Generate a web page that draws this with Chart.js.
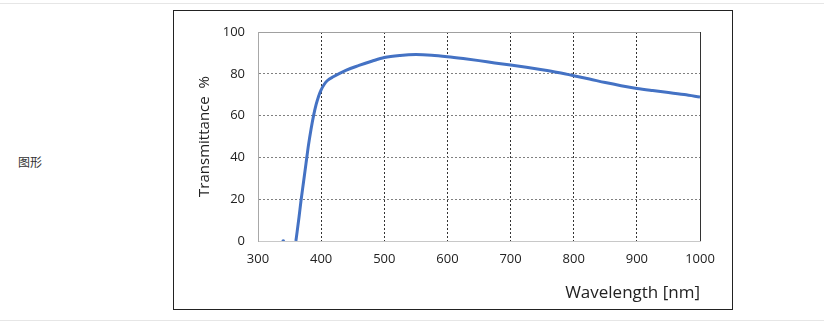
<!DOCTYPE html>
<html>
<head>
<meta charset="utf-8">
<script src="https://cdn.jsdelivr.net/npm/chart.js@4"></script>
<style>
  html, body { margin: 0; padding: 0; background: #fff; }
  body { width: 824px; height: 322px; position: relative; overflow: hidden; font-family: "Noto Sans CJK SC", "Noto Sans", sans-serif; }
  .hline { position: absolute; left: 0; width: 824px; height: 1px; background: #e6e6e6; }
  .label { position: absolute; left: 18px; top: 154px; font-size: 12px; color: #333; line-height: 16px; }
  .box { position: absolute; left: 173px; top: 10px; width: 558px; height: 298px; border: 1px solid #222; }
  canvas { display: block; }
</style>
</head>
<body>
<div class="hline" style="top:3px"></div>
<div class="hline" style="top:320px"></div>
<div class="label">图形</div>
<div class="box"><canvas id="c" width="558" height="298"></canvas></div>
<script>
const wavelengths = [360,362,365,368,372,376,380,384,388,392,396,400,405,410,420,440,460,480,500,525,550,575,600,625,650,675,700,725,750,775,800,825,850,875,900,925,950,975,1000];
const transmittance = [0,4.5,11.5,19,28,37,46,53.5,60,65.2,69.3,72.3,75,76.8,78.7,81.8,84,86,87.8,88.8,89.2,88.9,88.2,87.3,86.3,85.2,84.2,83.1,81.9,80.6,79.1,77.5,75.8,74.3,73,72,71.1,70.1,68.9];
const strayWavelengths = [340];
const strayValues = [0];
const xTicks = [300,400,500,600,700,800,900,1000];
const yTicks = [0,20,40,60,80,100];

const lineColor = '#4472C4';
const fontFam = '"Open Sans", "Noto Sans", sans-serif';

new Chart(document.getElementById('c'), {
  type: 'line',
  data: {
    datasets: [
      {
        data: wavelengths.map((w, i) => ({x: w, y: transmittance[i]})),
        borderColor: lineColor,
        borderWidth: 3,
        pointRadius: 0,
        cubicInterpolationMode: 'monotone',
        fill: false
      },
      {
        data: strayWavelengths.map((w, i) => ({x: w, y: strayValues[i]})),
        showLine: false,
        pointRadius: 1.8,
        pointBorderWidth: 0,
        pointBackgroundColor: lineColor,
        borderColor: lineColor
      }
    ]
  },
  options: {
    responsive: false,
    animation: false,
    events: [],
    layout: { padding: { left: 0, right: 32, top: 21, bottom: 0 } },
    plugins: { legend: { display: false }, tooltip: { enabled: false } },
    scales: {
      x: {
        type: 'linear',
        min: 300, max: 1000,
        afterFit: s => { s.height = 68; },
        afterBuildTicks: s => { s.ticks = xTicks.map(v => ({value: v})); },
        ticks: { padding: 10, color: '#222', font: { family: fontFam, size: 13 }, callback: v => String(v) },
        grid: {
          drawTicks: false,
          lineWidth: 1,
          color: c => c.index === 0 ? 'rgba(0,0,0,0)' : '#333'
        },
        border: {
          display: true, color: '#c8c8c8', width: 1,
          dash: c => (c.index === undefined || c.index === 0 || c.index === xTicks.length - 1) ? [] : [2, 2]
        },
        title: {
          display: true, text: 'Wavelength [nm]', align: 'end', color: '#222',
          font: { family: fontFam, size: 17 }, padding: { top: 0, bottom: 6 }
        }
      },
      y: {
        type: 'linear',
        min: 0, max: 100,
        afterFit: s => { s.width = 84; },
        afterBuildTicks: s => { s.ticks = yTicks.map(v => ({value: v})); },
        ticks: { padding: 13, color: '#222', font: { family: fontFam, size: 13 }, callback: v => String(v) },
        grid: {
          drawTicks: false,
          lineWidth: 1,
          color: c => c.index === 0 ? 'rgba(0,0,0,0)' : (c.index === yTicks.length - 1 ? '#a0a0a0' : '#808080')
        },
        border: {
          display: true, color: '#a8a8a8', width: 1,
          dash: c => (c.index === undefined || c.index === 0 || c.index === yTicks.length - 1) ? [] : [2, 2]
        },
        title: {
          display: true, text: 'Transmittance\u00a0 %', color: '#222',
          font: { family: fontFam, size: 15 }, padding: { top: 22, bottom: 0 }
        }
      }
    }
  }
});
</script>
</body>
</html>
